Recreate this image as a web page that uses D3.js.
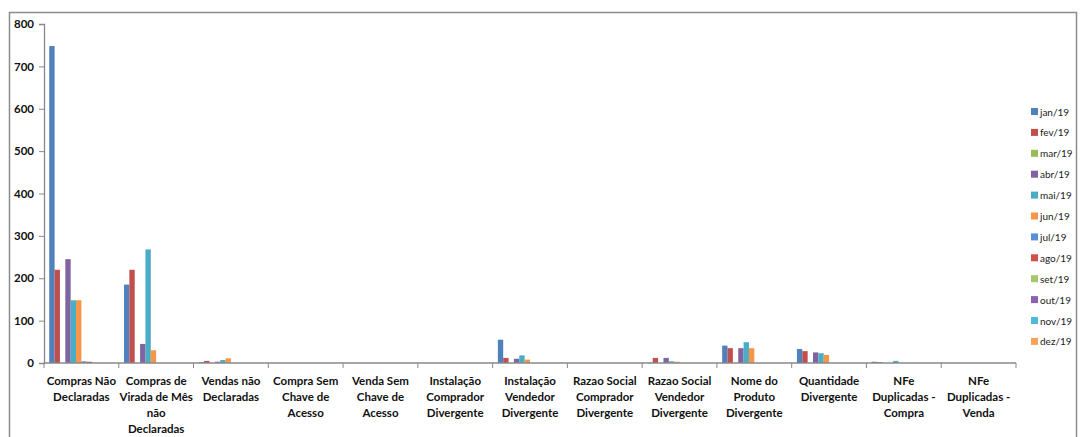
<!DOCTYPE html>
<html><head><meta charset="utf-8">
<script src="https://cdn.jsdelivr.net/npm/d3@7"></script>
<style>body{margin:0;background:#fff}svg{display:block}</style>
</head><body>
<svg id="c" width="1080" height="437"></svg>
<script>
const categories = [
  ["Compras Não","Declaradas"],
  ["Compras de","Virada de Mês","não","Declaradas"],
  ["Vendas não","Declaradas"],
  ["Compra Sem","Chave de","Acesso"],
  ["Venda Sem","Chave de","Acesso"],
  ["Instalação","Comprador","Divergente"],
  ["Instalação","Vendedor","Divergente"],
  ["Razao Social","Comprador","Divergente"],
  ["Razao Social","Vendedor","Divergente"],
  ["Nome do","Produto","Divergente"],
  ["Quantidade","Divergente"],
  ["NFe","Duplicadas -","Compra"],
  ["NFe","Duplicadas -","Venda"]
];
const months = ["jan/19","fev/19","mar/19","abr/19","mai/19","jun/19","jul/19","ago/19","set/19","out/19","nov/19","dez/19"];
const colors = ["#4F81BD","#C0504D","#9BBB59","#8064A2","#4BACC6","#F79646","#5B8FD6","#D0504E","#A6C86A","#8A62B0","#4DBAD6","#F9A25A"];
// values per category, one per month (jan..dez)
const compras_nao_declaradas = [748,220,0,245,148,148,4,3,0,0,0,0];
const compras_virada_mes     = [185,220,0,45,268,30,0,0,0,0,0,0];
const vendas_nao_declaradas  = [2,5,0,3,7,11,0,0,0,0,0,0];
const compra_sem_chave       = [0,0,0,0,0,0,0,0,0,0,0,0];
const venda_sem_chave        = [0,0,0,0,0,0,0,0,0,0,0,0];
const inst_comprador         = [0,0,0,0,0,0,0,0,0,0,0,0];
const inst_vendedor          = [55,12,0,10,18,8,0,0,0,0,0,0];
const razao_comprador        = [0,0,0,0,0,0,0,0,0,0,0,0];
const razao_vendedor         = [1,12,0,12,4,3,0,0,0,0,0,0];
const nome_produto           = [41,35,0,35,49,35,0,0,0,0,0,0];
const quantidade_div         = [33,28,0,25,23,19,0,0,0,0,0,0];
const nfe_dup_compra         = [3,2,0,0,5,0,0,0,0,0,0,0];
const nfe_dup_venda          = [0,0,0,0,0,0,0,0,0,0,0,0];
const seriesByCategory = [compras_nao_declaradas,compras_virada_mes,vendas_nao_declaradas,compra_sem_chave,venda_sem_chave,inst_comprador,inst_vendedor,razao_comprador,razao_vendedor,nome_produto,quantidade_div,nfe_dup_compra,nfe_dup_venda];
const yTicks = [0,100,200,300,400,500,600,700,800];

const svg = d3.select("#c");
const font = "Lato, 'Open Sans', sans-serif";
const L = 44, R = 1016, T = 24, B = 363;

svg.append("rect").attr("x",9.5).attr("y",12.5).attr("width",1067).attr("height",440)
  .attr("fill","none").attr("stroke","#8c8c8c").attr("stroke-width",1.5);

const x0 = d3.scaleBand().domain(d3.range(categories.length)).range([L,R]).padding(0);
const x1 = d3.scaleBand().domain(months).range([x0.bandwidth()*0.07, x0.bandwidth()*0.93]).padding(0);
const y = d3.scaleLinear().domain([0,800]).range([B,T]);

// bars
const g = svg.append("g");
seriesByCategory.forEach((vals,ci)=>{
  g.append("g").selectAll("rect").data(vals).join("rect")
    .attr("x",(d,i)=>x0(ci)+x1(months[i]))
    .attr("width",x1.bandwidth())
    .attr("y",d=>y(d))
    .attr("height",d=>B-y(d))
    .attr("fill",(d,i)=>colors[i]);
});

// y axis
const ya = svg.append("g").attr("transform",`translate(${L},0)`)
  .call(d3.axisLeft(y).tickValues(yTicks).tickSize(5).tickPadding(5));
ya.select(".domain").attr("stroke","#888").attr("stroke-width",1.3);
ya.selectAll(".tick line").attr("stroke","#888");
ya.selectAll(".tick text").attr("font-family",font).attr("font-weight","bold").attr("font-size",11.5).attr("fill","#111");

// x axis
const xa = svg.append("g").attr("transform",`translate(0,${B})`);
xa.append("line").attr("x1",L).attr("x2",R).attr("stroke","#888").attr("stroke-width",1.3);
xa.selectAll("line.tk").data(d3.range(categories.length+1)).join("line").attr("class","tk")
  .attr("x1",i=>L+i*x0.bandwidth()).attr("x2",i=>L+i*x0.bandwidth()).attr("y1",0).attr("y2",5).attr("stroke","#888");
categories.forEach((lines,ci)=>{
  const t = xa.append("text").attr("x",x0(ci)+x0.bandwidth()/2).attr("y",22)
    .attr("text-anchor","middle").attr("font-family",font).attr("font-weight","bold").attr("font-size",11.5).attr("fill","#111");
  lines.forEach((ln,li)=>t.append("tspan").attr("x",x0(ci)+x0.bandwidth()/2).attr("dy",li?16:0).text(ln));
});

// legend
const lg = svg.append("g").attr("transform","translate(1031,112)");
months.forEach((m,i)=>{
  const r = lg.append("g").attr("transform",`translate(0,${i*20.9})`);
  r.append("rect").attr("x",0).attr("y",-4).attr("width",7).attr("height",7).attr("fill",colors[i]);
  r.append("text").attr("x",9).attr("y",3.5).attr("font-family",font).attr("font-size",10).attr("fill","#222").text(m);
});
</script>
</body></html>
